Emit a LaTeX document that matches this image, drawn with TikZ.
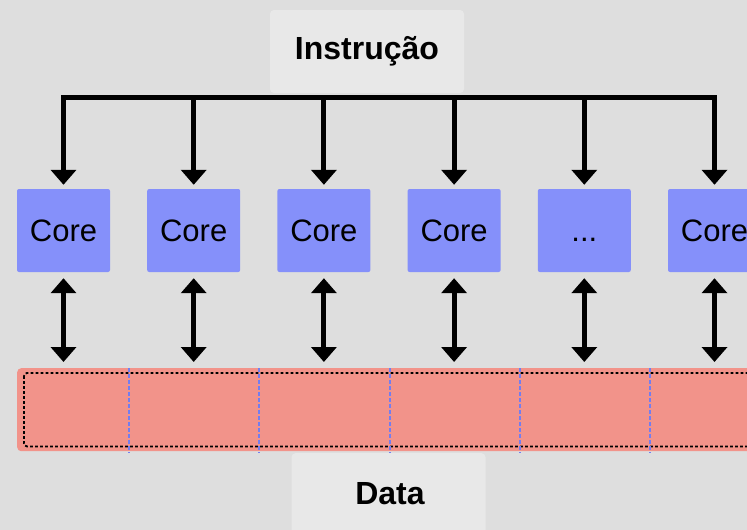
\documentclass[tikz,border=0pt]{standalone}
\usepackage{fontspec}
\setmainfont{Liberation Sans}
\usetikzlibrary{arrows.meta}
\definecolor{bg}{RGB}{222,222,222}
\definecolor{labelbg}{RGB}{232,232,232}
\definecolor{corefill}{RGB}{133,144,250}
\definecolor{memfill}{RGB}{242,147,138}
\definecolor{sepblue}{RGB}{115,125,240}
\begin{document}
\begin{tikzpicture}[x=1pt,y=-1pt,
  labelbox/.style={fill=labelbg, rounded corners=4pt, minimum width=194pt, minimum height=83pt, inner sep=0pt, font=\fontsize{32}{38}\selectfont\bfseries},
  corebox/.style={fill=corefill, rounded corners=2pt, minimum width=93pt, minimum height=83pt, inner sep=0pt, font=\fontsize{31}{37}\selectfont},
  busline/.style={line width=5pt},
  busdrop/.style={line width=5pt, -{Triangle[width=25pt,length=15pt]}, shorten >=4pt},
  memlink/.style={line width=5pt, {Triangle[width=25pt,length=15pt]}-{Triangle[width=25pt,length=15pt]}, shorten >=6pt, shorten <=6pt},
  separator/.style={sepblue, line width=2pt, dash pattern=on 3.5pt off 2.5pt}
]
% canvas
\fill[bg] (0,0) rectangle (747,530);
\useasboundingbox (0,0) rectangle (747,530);
\clip (0,0) rectangle (747,530);

% instruction source
\node[labelbox] (instr) at (367,51.5) {Instrução};

% processing cores
\node[corebox] (c1) at (63.5,230.5) {Core};
\node[corebox] (c2) at (193.7,230.5) {Core};
\node[corebox] (c3) at (323.9,230.5) {Core};
\node[corebox] (c4) at (454.1,230.5) {Core};
\node[corebox] (c5) at (584.3,230.5) {\vphantom{Core}.{}.{}.};
\node[corebox] (c6) at (714.5,230.5) {Core};

% shared data memory
\node[fill=memfill, rounded corners=4pt, minimum width=746pt, minimum height=83pt, inner sep=0pt, anchor=north west] (mem) at (17,368) {};
\draw[black, line width=1.8pt, dash pattern=on 2.8pt off 2.2pt, rounded corners=3pt]
  ([xshift=7pt,yshift=-5pt]mem.north west) rectangle ([xshift=-7pt,yshift=5pt]mem.south east);
\foreach \xs in {129,259,390,520,650} {
  \draw[separator] (\xs,368) -- (\xs,453);
}
\node[labelbox, anchor=north] (data) at (388.5,453) {};
\node[font=\fontsize{32}{38}\selectfont\bfseries] (datatext) at (390,494) {Data};

% broadcast bus
\coordinate (bus) at (0,97);
\draw[busline, line cap=rect] (c1.north |- bus) -- (c6.north |- bus);
\foreach \i in {1,2,3,4,5,6} {
  \draw[busdrop] (c\i.north |- bus) -- (c\i.north);
}

% core <-> memory links
\foreach \i in {1,2,3,4,5,6} {
  \draw[memlink] (c\i.south) -- (c\i.south |- mem.north);
}
\end{tikzpicture}
\end{document}
